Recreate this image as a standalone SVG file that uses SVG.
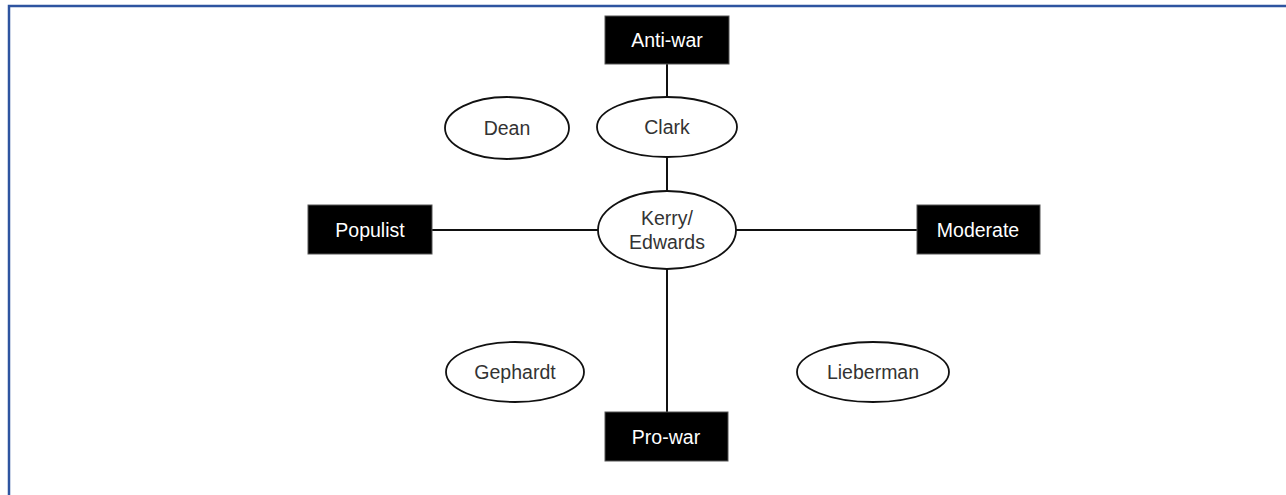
<svg xmlns="http://www.w3.org/2000/svg" width="1286" height="495" viewBox="0 0 1286 495">
<style>
.box{fill:#000;stroke:#555;stroke-width:1}
.ell{fill:#fff;stroke:#111;stroke-width:1.8}
.bt{fill:#fff;font-family:"Liberation Sans",Arial,sans-serif;font-size:19.5px;text-anchor:middle;dominant-baseline:central}
.et{fill:#333;font-family:"Liberation Sans",Arial,sans-serif;font-size:19.5px;text-anchor:middle;dominant-baseline:central}
.ln{stroke:#111;stroke-width:2;fill:none}
</style>
<rect width="1286" height="495" fill="#fff"/>
<path d="M9,495 V6 H1286" fill="none" stroke="#2E54A0" stroke-width="2.5"/>
<g id="connectors">
<line class="ln" x1="667" y1="64" x2="667" y2="97"/>
<line class="ln" x1="667" y1="157" x2="667" y2="191"/>
<line class="ln" x1="432" y1="230" x2="598" y2="230"/>
<line class="ln" x1="736" y1="230" x2="917" y2="230"/>
<line class="ln" x1="667" y1="269" x2="667" y2="412"/>
</g>
<g id="anti-war"><rect class="box" x="605" y="16" width="124" height="48"/><text class="bt" x="667" y="40">Anti-war</text></g>
<g id="populist"><rect class="box" x="308" y="205" width="124" height="49"/><text class="bt" x="370" y="230">Populist</text></g>
<g id="moderate"><rect class="box" x="917" y="205" width="123" height="49"/><text class="bt" x="978" y="230">Moderate</text></g>
<g id="pro-war"><rect class="box" x="605" y="412" width="123" height="49"/><text class="bt" x="666" y="437">Pro-war</text></g>
<g id="dean"><ellipse class="ell" cx="507" cy="128" rx="62" ry="31"/><text class="et" x="507" y="128">Dean</text></g>
<g id="clark"><ellipse class="ell" cx="667" cy="127" rx="70" ry="30"/><text class="et" x="667" y="127">Clark</text></g>
<g id="kerry-edwards"><ellipse class="ell" cx="667" cy="230" rx="69" ry="39"/><text class="et" x="667" y="218">Kerry/</text><text class="et" x="667" y="242">Edwards</text></g>
<g id="gephardt"><ellipse class="ell" cx="515" cy="372" rx="69" ry="30"/><text class="et" x="515" y="372">Gephardt</text></g>
<g id="lieberman"><ellipse class="ell" cx="873" cy="372" rx="76" ry="30"/><text class="et" x="873" y="372">Lieberman</text></g>
</svg>
